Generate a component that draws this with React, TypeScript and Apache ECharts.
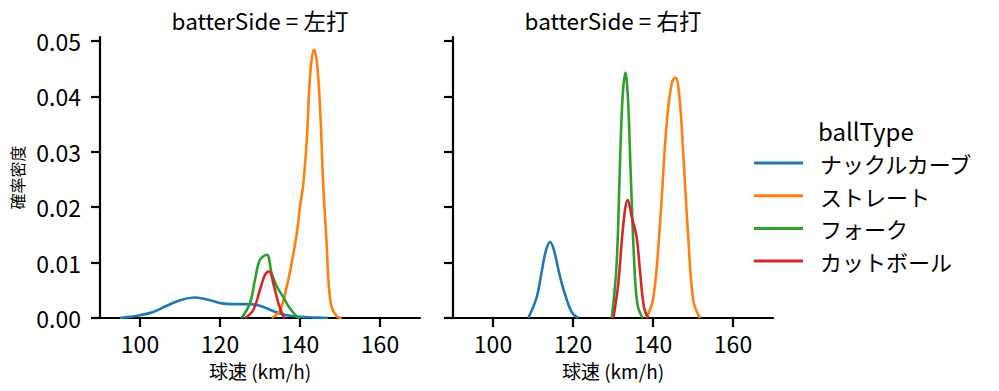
import React, { useEffect, useRef } from "react";
import * as echarts from "echarts";

const ballTypes = ["ナックルカーブ", "ストレート", "フォーク", "カットボール"];
const colors = ["#1f77b4", "#ff7f0e", "#2ca02c", "#d62728"];
const panels = ["batterSide = 左打", "batterSide = 右打"];
const xTicks = [100, 120, 140, 160];
const yTicks = [0, 0.01, 0.02, 0.03, 0.04, 0.05];

// 左打
const leftKnuckle = [
  [95, 0], [97.5, 0.0002], [100, 0.0005], [103.3, 0.0011], [106.7, 0.0022], [110, 0.0032],
  [113.75, 0.0037], [117.5, 0.0032], [120.8, 0.0026], [125, 0.0025], [127.5, 0.0025],
  [130, 0.0022], [132.5, 0.0015], [135, 0.0008], [137.5, 0.0004], [140, 0.0002], [143, 0.0001], [147, 0],
];
const leftStraight = [
  [132.9, 0], [135, 0.0014], [136.7, 0.0057], [137.9, 0.0099], [139.2, 0.0153], [140, 0.0201],
  [140.8, 0.024], [141.7, 0.0321], [142.3, 0.0412], [142.9, 0.0466], [143.5, 0.0484], [144.1, 0.0468],
  [144.6, 0.043], [145.2, 0.0351], [145.8, 0.024], [146.7, 0.0129], [147.1, 0.0069], [147.9, 0.002],
  [149.2, 0.0003], [150.4, 0],
];
const leftFork = [
  [125.4, 0], [127.5, 0.0027], [128.75, 0.0069], [130, 0.0105], [131.7, 0.0114], [132.9, 0.0081],
  [134.2, 0.0057], [135.8, 0.0038], [137.5, 0.0017], [139.2, 0.0003], [140, 0],
];
const leftCutter = [
  [126.25, 0], [128.3, 0.0014], [130, 0.0051], [131.25, 0.0078], [132.3, 0.0084], [133.3, 0.0063],
  [134.6, 0.0027], [135.8, 0.0003], [136.25, 0],
];

// 右打
const rightKnuckle = [
  [108.8, 0], [110.9, 0.0037], [112.2, 0.0085], [113.25, 0.0122], [114.25, 0.0137], [115.25, 0.0122],
  [116.6, 0.0079], [118, 0.0043], [119.7, 0.001], [121.3, 0],
];
const rightStraight = [
  [138.4, 0], [140.1, 0.0037], [141.75, 0.017], [143.4, 0.035], [144.7, 0.0424], [145.6, 0.0434],
  [146.6, 0.0399], [147.6, 0.0291], [148.8, 0.0146], [150.1, 0.0031], [151.75, 0],
];
const rightFork = [
  [129.7, 0], [130.9, 0.0097], [131.75, 0.0279], [132.4, 0.0399], [133.1, 0.0443], [133.75, 0.0393],
  [134.4, 0.0267], [135.25, 0.0109], [136.1, 0.0025], [137.4, 0],
];
const rightCutter = [
  [130.1, 0], [131.3, 0.0061], [132.6, 0.017], [133.7, 0.0213], [134.7, 0.0182], [135.9, 0.0146],
  [136.75, 0.0085], [137.75, 0.0019], [138.8, 0],
];

const panelData = [
  [leftKnuckle, leftStraight, leftFork, leftCutter],
  [rightKnuckle, rightStraight, rightFork, rightCutter],
];

const FONT = "'Noto Sans CJK JP', 'Noto Sans', sans-serif";

export default function App() {
  const ref = useRef<HTMLDivElement>(null);
  useEffect(() => {
    if (!ref.current) return;
    const chart = echarts.init(ref.current, null, { renderer: "svg" });
    const grids = [
      { left: 100, top: 37, width: 320, height: 281 },
      { left: 453, top: 37, width: 320, height: 281 },
    ];
    const axisLine = { show: true, lineStyle: { color: "#000", width: 2.2 } };
    const tick = (vals: number[]) => ({
      show: true,
      length: 9,
      lineStyle: { color: "#000", width: 2.2 },
      customValues: vals,
    });
    const xAxes = grids.map((_, i) => ({
      type: "value",
      gridIndex: i,
      min: 90,
      max: 170,
      axisLine: { ...axisLine, onZero: false },
      axisTick: tick(xTicks),
      axisLabel: {
        customValues: xTicks,
        color: "#000",
        fontSize: 23,
        lineHeight: 20,
        fontFamily: FONT,
        margin: 15,
      },
      splitLine: { show: false },
      name: "球速 (km/h)",
      nameLocation: "middle",
      nameGap: 44,
      nameTextStyle: { color: "#000", fontSize: 19, lineHeight: 16, fontFamily: FONT },
    }));
    const yAxes = grids.map((_, i) => ({
      type: "value",
      gridIndex: i,
      min: 0,
      max: 0.0507,
      axisLine: { ...axisLine, onZero: false },
      axisTick: tick(yTicks),
      axisLabel: {
        show: i === 0,
        customValues: yTicks,
        color: "#000",
        fontSize: 23,
        fontFamily: FONT,
        margin: 19,
        formatter: (v: number) => v.toFixed(2),
      },
      splitLine: { show: false },
      name: i === 0 ? "確率密度" : "",
      nameLocation: "middle",
      nameGap: 75,
      nameTextStyle: { color: "#000", fontSize: 16, fontFamily: FONT },
    }));
    const series: any[] = [];
    panelData.forEach((sets, p) => {
      sets.forEach((d, k) => {
        series.push({
          type: "line",
          name: ballTypes[k],
          xAxisIndex: p,
          yAxisIndex: p,
          data: d,
          smooth: 0.4,
          showSymbol: false,
          lineStyle: { color: colors[k], width: 2.6 },
          itemStyle: { color: colors[k] },
          z: 2 + k,
        });
      });
    });
    const graphic: any[] = [];
    panels.forEach((t, i) => {
      graphic.push({
        type: "text",
        x: grids[i].left + grids[i].width / 2,
        y: 20,
        style: { text: t, fontSize: 22.5, fontFamily: FONT, fill: "#000", textAlign: "center", textVerticalAlign: "middle" },
      });
    });
    graphic.push({
      type: "text",
      x: 818,
      y: 130,
      style: { text: "ballType", fontSize: 24, fontFamily: FONT, fill: "#000", textAlign: "left", textVerticalAlign: "middle" },
    });
    ballTypes.forEach((name, k) => {
      const y = 163 + k * 32.7;
      graphic.push({
        type: "line",
        shape: { x1: 754, y1: y, x2: 803, y2: y },
        style: { stroke: colors[k], lineWidth: 3 },
      });
      graphic.push({
        type: "text",
        x: 820,
        y,
        style: { text: name, fontSize: 22, fontFamily: FONT, fill: "#000", textAlign: "left", textVerticalAlign: "middle" },
      });
    });
    chart.setOption({
      animation: false,
      backgroundColor: "#fff",
      grid: grids,
      xAxis: xAxes,
      yAxis: yAxes,
      series,
      graphic,
    });
    return () => chart.dispose();
  }, []);
  return <div ref={ref} style={{ width: 999, height: 391, position: "absolute", left: 0, top: 0 }} />;
}
